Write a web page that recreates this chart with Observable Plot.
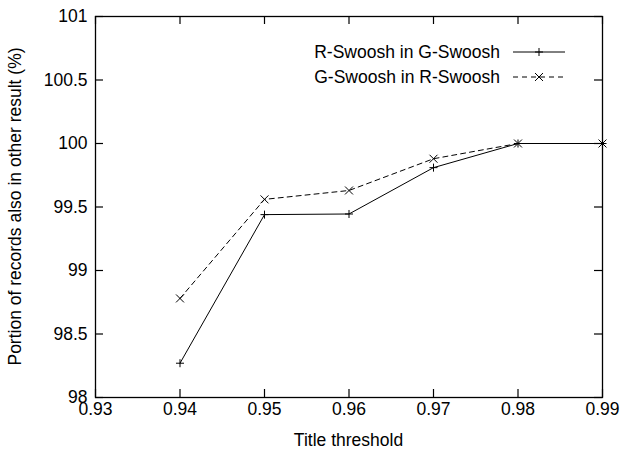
<!DOCTYPE html>
<html>
<head>
<meta charset="utf-8">
<script src="https://cdn.jsdelivr.net/npm/d3@7"></script>
<script src="https://cdn.jsdelivr.net/npm/@observablehq/plot@0.6"></script>
<style>
  html, body { margin: 0; padding: 0; background: #fff; }
  #chart { width: 624px; height: 454px; position: relative; }
  svg { font-family: "Liberation Sans", Arial, sans-serif; }
</style>
</head>
<body>
<div id="chart"></div>
<script>
// Data
const thresholds = [0.94, 0.95, 0.96, 0.97, 0.98, 0.99];
const rInG = [98.27, 99.44, 99.445, 99.81, 100, 100];
const gInR = [98.78, 99.56, 99.63, 99.88, 100, 100];
const seriesNames = ["R-Swoosh in G-Swoosh", "G-Swoosh in R-Swoosh"];
const xTicks = [0.93, 0.94, 0.95, 0.96, 0.97, 0.98, 0.99];
const yTicks = [98, 98.5, 99, 99.5, 100, 100.5, 101];
const xDomain = [0.93, 0.99];
const yDomain = [98, 101];
const xLabel = "Title threshold";
const yLabel = "Portion of records also in other result (%)";

(function () {
const rows = [];
thresholds.forEach((t, i) => {
  rows.push({x: t, y: rInG[i], s: seriesNames[0]});
  rows.push({x: t, y: gInR[i], s: seriesNames[1]});
});
const rData = rows.filter(d => d.s === seriesNames[0]);
const gData = rows.filter(d => d.s === seriesNames[1]);

const fs = 17.5;
const font = "'Liberation Sans', Arial, sans-serif";
const plot = Plot.plot({
  width: 624,
  height: 454,
  marginLeft: 95,
  marginRight: 22,
  marginTop: 16,
  marginBottom: 57,
  style: {fontSize: fs + "px", fontFamily: font, background: "#fff", color: "#000"},
  x: {domain: xDomain, ticks: xTicks, label: null},
  y: {domain: yDomain, ticks: yTicks, label: null},
  marks: [
    Plot.frame({stroke: "#000", strokeWidth: 1.3}),
    // inward ticks on all four sides
    Plot.ruleX(xTicks, {x: d => d, y1: yDomain[0], y2: yDomain[0], insetBottom: 8, stroke: "#000", strokeWidth: 1.2}),
    Plot.ruleX(xTicks, {x: d => d, y1: yDomain[1], y2: yDomain[1], insetTop: 8, stroke: "#000", strokeWidth: 1.2}),
    Plot.ruleY(yTicks, {y: d => d, x1: xDomain[0], x2: xDomain[0], insetLeft: 8, stroke: "#000", strokeWidth: 1.2}),
    Plot.ruleY(yTicks, {y: d => d, x1: xDomain[1], x2: xDomain[1], insetRight: 8, stroke: "#000", strokeWidth: 1.2}),
    Plot.axisX({ticks: xTicks, tickSize: 0, tickPadding: 5, tickFormat: d3.format(".2f"), label: null, fontSize: fs}),
    Plot.axisY({ticks: yTicks, tickSize: 0, tickPadding: 8, tickFormat: d => String(d), label: null, fontSize: fs}),
    Plot.line(rData, {x: "x", y: "y", stroke: "#000", strokeWidth: 1}),
    Plot.line(gData, {x: "x", y: "y", stroke: "#000", strokeWidth: 1, strokeDasharray: "5,4"}),
    Plot.dot(rData, {x: "x", y: "y", symbol: "plus", r: 2.7, stroke: "#000", strokeWidth: 1}),
    Plot.dot(gData, {x: "x", y: "y", symbol: "times", r: 3.7, stroke: "#000", strokeWidth: 1})
  ]
});
document.getElementById("chart").appendChild(plot);

const sx = plot.scale("x"), sy = plot.scale("y");
const frameLeft = sx.apply(xDomain[0]);
const frameRight = sx.apply(xDomain[1]);
const frameTop = sy.apply(yDomain[1]);
const frameBottom = sy.apply(yDomain[0]);
const svg = d3.select(plot);

// Axis titles
svg.append("text").attr("x", (frameLeft + frameRight) / 2).attr("y", frameBottom + 43)
  .attr("dy", "0.35em").attr("text-anchor", "middle").attr("font-size", fs)
  .attr("font-family", font).attr("fill", "#000").text(xLabel);
svg.append("text").attr("transform", `translate(${frameLeft - 80},${(frameTop + frameBottom) / 2}) rotate(-90)`)
  .attr("dy", "0.35em").attr("text-anchor", "middle").attr("font-size", fs)
  .attr("font-family", font).attr("fill", "#000").text(yLabel);

// Legend inside the plot frame (top-right)
const leg = svg.append("g").attr("font-size", fs).attr("font-family", font);
const legendItems = [
  {name: seriesNames[0], dash: null, sym: d3.symbolPlus, size: 22.9},
  {name: seriesNames[1], dash: "5,4", sym: d3.symbolTimes, size: 43.4}
];
legendItems.forEach((it, i) => {
  const cy = frameTop + 36 + i * 25;
  leg.append("text").attr("x", frameRight - 102).attr("y", cy).attr("dy", "0.35em")
    .attr("text-anchor", "end").attr("fill", "#000").text(it.name);
  leg.append("line").attr("x1", frameRight - 89).attr("x2", frameRight - 37).attr("y1", cy).attr("y2", cy)
    .attr("stroke", "#000").attr("stroke-width", 1).attr("stroke-dasharray", it.dash);
  leg.append("path").attr("transform", `translate(${frameRight - 63},${cy})`)
    .attr("d", d3.symbol(it.sym, it.size)()).attr("fill", "none").attr("stroke", "#000");
});
})();
</script>
</body>
</html>
